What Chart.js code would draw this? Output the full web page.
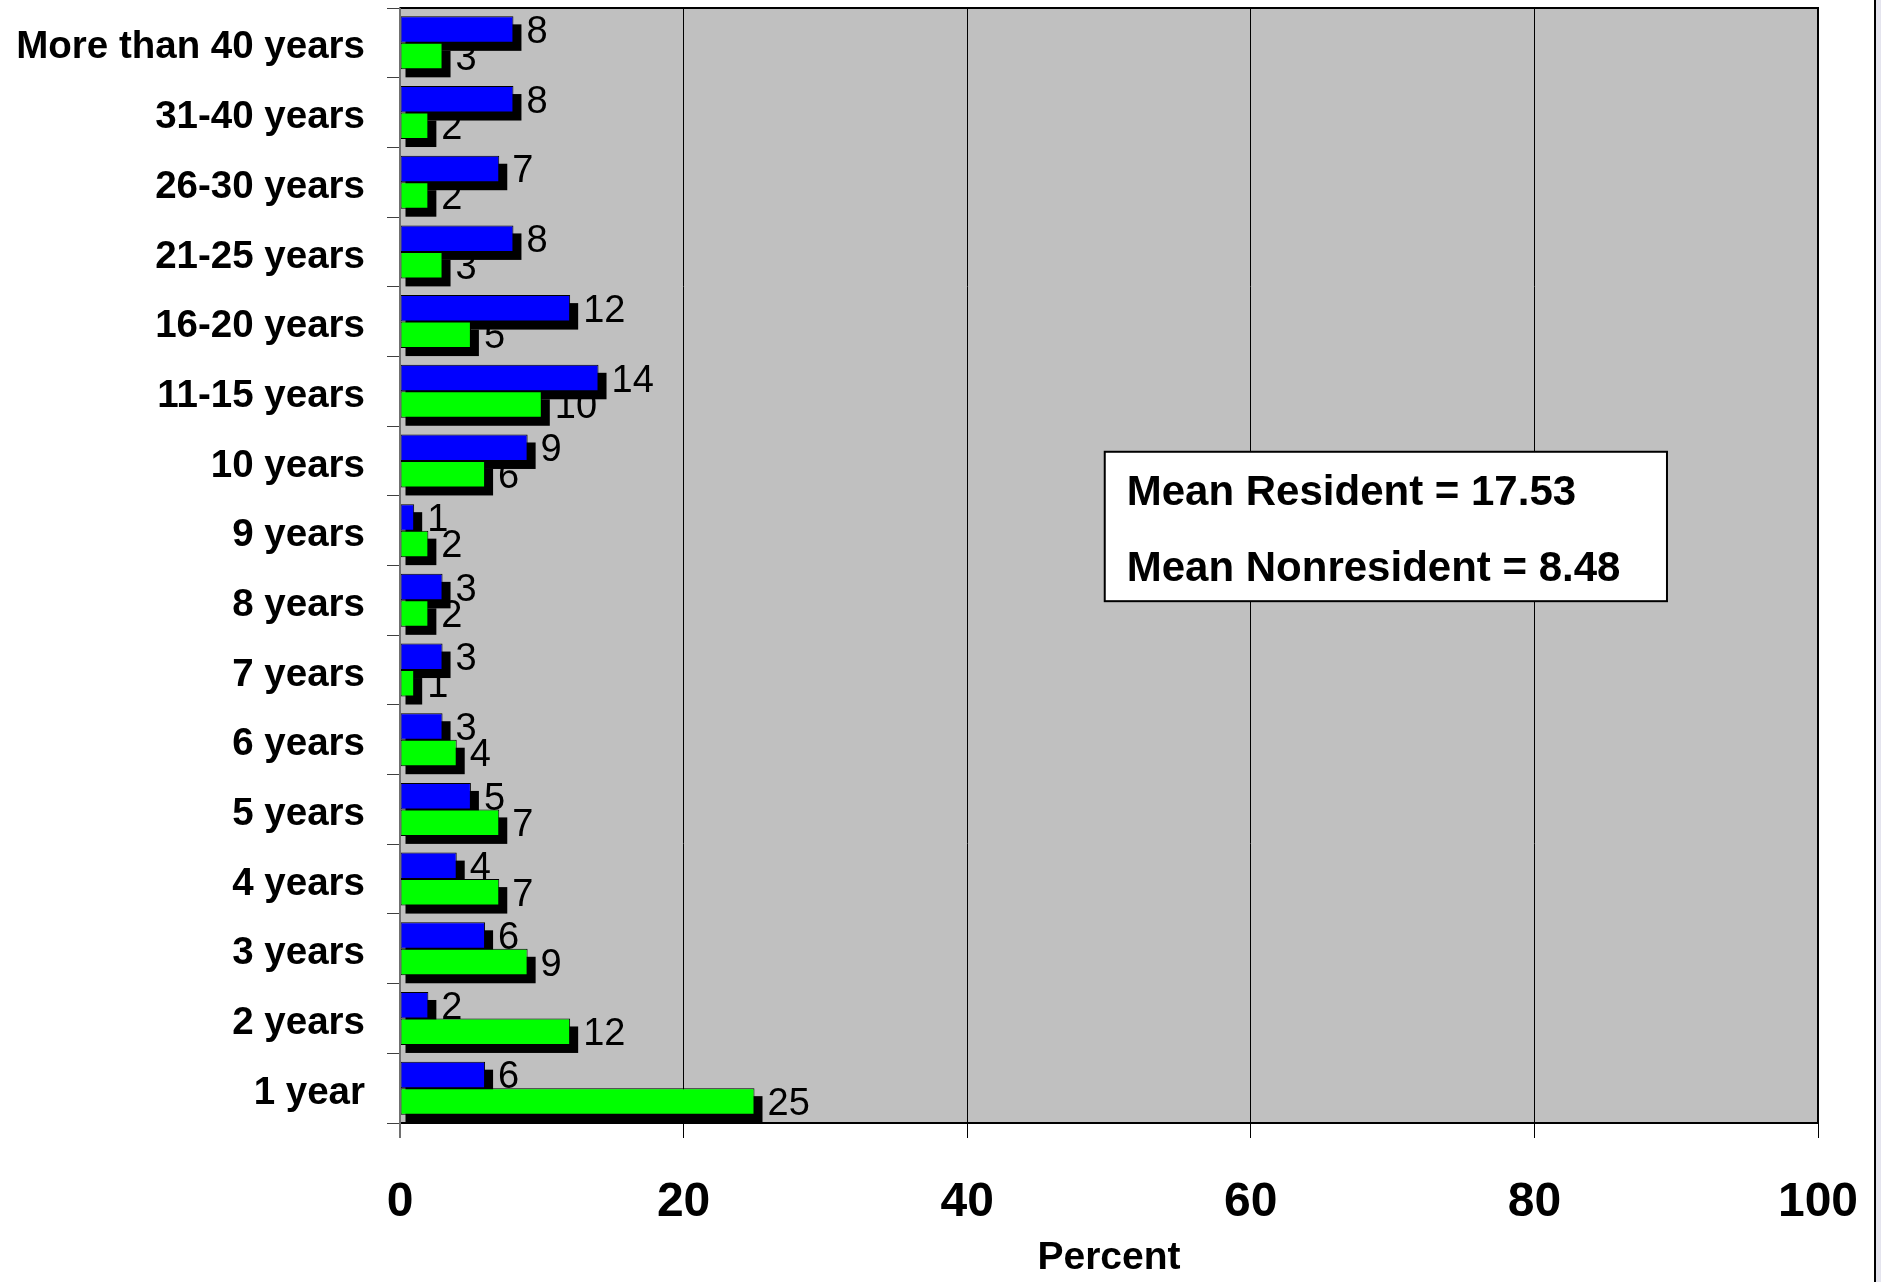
<!DOCTYPE html>
<html>
<head>
<meta charset="utf-8">
<script src="https://cdn.jsdelivr.net/npm/chart.js@4.4.0/dist/chart.umd.min.js"></script>
<style>
  html, body { margin: 0; padding: 0; background: #fff; }
  #wrap { position: relative; width: 1881px; height: 1282px; }
  #edge { position: absolute; left: 1874px; top: 0; width: 2px; height: 1282px; background: #000; }
  #side { position: absolute; left: 1876px; top: 0; width: 5px; height: 1282px; background: #e4e4ee; }
</style>
</head>
<body>
<div id="wrap">
  <canvas id="chart" width="1881" height="1282"></canvas>
  <div id="edge"></div>
  <div id="side"></div>
</div>
<script>
const categories = [
    'More than 40 years', '31-40 years', '26-30 years', '21-25 years',
    '16-20 years', '11-15 years', '10 years', '9 years', '8 years',
    '7 years', '6 years', '5 years', '4 years', '3 years', '2 years', '1 year'
];
const residentValues = [8, 8, 7, 8, 12, 14, 9, 1, 3, 3, 3, 5, 4, 6, 2, 6];
const nonresidentValues = [3, 2, 2, 3, 5, 10, 6, 2, 2, 1, 4, 7, 7, 9, 12, 25];
const percentTicks = [0, 20, 40, 60, 80, 100];
const meanLines = ['Mean Resident = 17.53', 'Mean Nonresident = 8.48'];

const FONT = '"Liberation Sans", Arial, sans-serif';

// grey plot background
const plotBackground = {
    id: 'plotBackground',
    beforeDraw(chart) {
        const { ctx, chartArea: a } = chart;
        ctx.save();
        ctx.fillStyle = '#fff';
        ctx.fillRect(0, 0, chart.width, chart.height);
        ctx.fillStyle = '#c0c0c0';
        ctx.fillRect(a.left, a.top, a.right - a.left, a.bottom - a.top);
        ctx.restore();
    }
};

// value labels first, then the black drop shadows, bars go on top
const barShadows = {
    id: 'barShadows',
    beforeDatasetsDraw(chart) {
        const ctx = chart.ctx;
        ctx.save();
        ctx.font = '38px ' + FONT;
        ctx.fillStyle = '#000';
        ctx.textAlign = 'left';
        ctx.textBaseline = 'middle';
        chart.data.datasets.forEach((ds, i) => {
            chart.getDatasetMeta(i).data.forEach((bar, j) => {
                ctx.fillText(String(ds.data[j]), bar.x + 13, bar.y + 3);
            });
        });
        ctx.fillStyle = '#000';
        chart.data.datasets.forEach((ds, i) => {
            chart.getDatasetMeta(i).data.forEach(bar => {
                const h = bar.height;
                ctx.fillRect(bar.base + 5, bar.y - h / 2 + 8, bar.x - bar.base + 3, h);
            });
        });
        ctx.restore();
    }
};

// plot frame and the text box with the means
const frameAndNote = {
    id: 'frameAndNote',
    afterDraw(chart) {
        const { ctx, chartArea: a } = chart;
        const w = a.right - a.left;
        const h = a.bottom - a.top;
        ctx.save();
        ctx.strokeStyle = '#000';
        ctx.lineWidth = 2;
        ctx.beginPath();
        ctx.moveTo(a.left, a.top);
        ctx.lineTo(a.right, a.top);
        ctx.lineTo(a.right, a.bottom);
        ctx.lineTo(a.left, a.bottom);
        ctx.stroke();
        ctx.strokeStyle = '#707070';
        ctx.beginPath();
        ctx.moveTo(a.left, a.top);
        ctx.lineTo(a.left, a.bottom + 15);
        ctx.stroke();

        const bx = a.left + w * 0.497;
        const by = a.top + h * 0.398;
        const bw = w * 0.3965;
        const bh = h * 0.134;
        ctx.fillStyle = '#fff';
        ctx.fillRect(bx, by, bw, bh);
        ctx.lineWidth = 2;
        ctx.strokeStyle = '#000';
        ctx.strokeRect(bx, by, bw, bh);
        ctx.fillStyle = '#000';
        ctx.font = 'bold 42px ' + FONT;
        ctx.textAlign = 'left';
        ctx.textBaseline = 'middle';
        ctx.fillText(meanLines[0], bx + 22, by + 42);
        ctx.fillText(meanLines[1], bx + 22, by + 118);
        ctx.restore();
    }
};

new Chart(document.getElementById('chart'), {
    type: 'bar',
    data: {
        labels: categories,
        datasets: [{
            label: 'Resident',
            data: residentValues,
            backgroundColor: '#0000ff',
            borderColor: '#000',
            borderWidth: 1,
            borderSkipped: false
        }, {
            label: 'Nonresident',
            data: nonresidentValues,
            backgroundColor: '#00ff00',
            borderColor: '#000',
            borderWidth: 1,
            borderSkipped: false
        }]
    },
    options: {
        indexAxis: 'y',
        responsive: false,
        animation: false,
        categoryPercentage: 0.76,
        barPercentage: 1,
        layout: { padding: { top: 8, right: 63, left: 0, bottom: 0 } },
        plugins: {
            legend: { display: false },
            tooltip: { enabled: false }
        },
        scales: {
            x: {
                type: 'linear',
                min: percentTicks[0],
                max: percentTicks[percentTicks.length - 1],
                afterBuildTicks(scale) {
                    scale.ticks = percentTicks.map(v => ({ value: v }));
                },
                ticks: {
                    color: '#000',
                    font: { family: FONT, size: 48, weight: 'bold' },
                    padding: 36,
                    maxRotation: 0
                },
                grid: {
                    color: '#000',
                    lineWidth: 1,
                    tickLength: 15
                },
                border: { color: '#000', width: 2 },
                title: {
                    display: true,
                    text: 'Percent',
                    color: '#000',
                    font: { family: FONT, size: 39, weight: 'bold' },
                    padding: { top: 0, bottom: 0 }
                },
                afterFit(scale) {
                    scale.height = 159;
                    scale.paddingLeft = 0;
                    scale.paddingRight = 0;
                }
            },
            y: {
                type: 'category',
                offset: true,
                ticks: {
                    color: '#000',
                    font: { family: FONT, size: 38.5, weight: 'bold' },
                    padding: 22,
                    labelOffset: 5
                },
                grid: {
                    offset: true,
                    drawOnChartArea: false,
                    color: '#404040',
                    tickLength: 13
                },
                border: { color: '#707070', width: 2 },
                afterFit(scale) {
                    scale.width = 400;
                    scale.paddingTop = 0;
                    scale.paddingBottom = 0;
                }
            }
        }
    },
    plugins: [plotBackground, barShadows, frameAndNote]
});
</script>
</body>
</html>
